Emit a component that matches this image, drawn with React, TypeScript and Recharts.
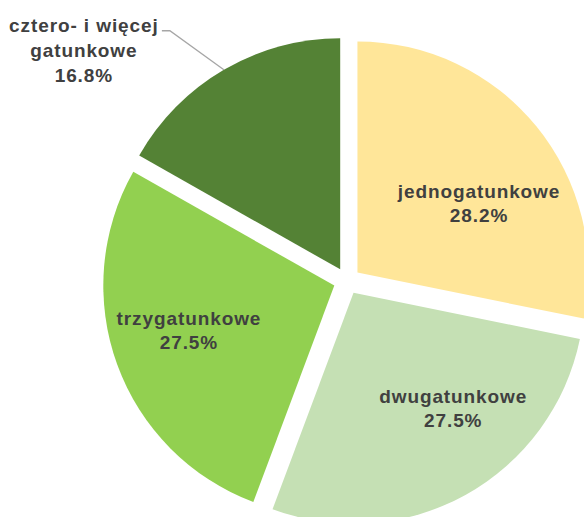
import React from 'react';
import { PieChart, Pie, Cell, Sector } from 'recharts';

const categories = ['jednogatunkowe', 'dwugatunkowe', 'trzygatunkowe', 'cztero- i więcej gatunkowe'];
const shares = [28.2, 27.5, 27.5, 16.8];
const sliceColors = ['#FFE699', '#C5E0B4', '#92D050', '#548235'];

const data = categories.map((name, i) => ({ name, value: shares[i] }));

const RAD = Math.PI / 180;
const EXPLODE = 13.5;
const TEXT_COLOR = '#404040';
const FONT = '"Liberation Sans", Arial, sans-serif';

// label placement tweaks (style): angle shift in degrees, radius
const labelPolar = [
  { shift: -9.5, r: 140 },
  { shift: 12, r: 152 },
  { shift: -3, r: 152 },
];

const offsetOf = (mid: number) => ({
  dx: EXPLODE * Math.cos(-mid * RAD),
  dy: EXPLODE * Math.sin(-mid * RAD),
});

const ExplodedSector = (props: any) => {
  const { cx, cy, midAngle, outerRadius, innerRadius, startAngle, endAngle, fill } = props;
  const { dx, dy } = offsetOf(midAngle);
  return (
    <Sector
      cx={cx + dx}
      cy={cy + dy}
      innerRadius={innerRadius}
      outerRadius={outerRadius}
      startAngle={startAngle}
      endAngle={endAngle}
      fill={fill}
      stroke="none"
    />
  );
};

const renderLabel = (props: any) => {
  const { cx, cy, midAngle, outerRadius, index } = props;
  const { dx, dy } = offsetOf(midAngle);
  const ecx = cx + dx;
  const ecy = cy + dy;
  const pct = shares[index].toFixed(1) + '%';
  const name = categories[index];
  const textStyle = {
    fontFamily: FONT,
    fontWeight: 700,
    fontSize: 19,
    letterSpacing: 0.9,
    fill: TEXT_COLOR,
  } as React.CSSProperties;
  if (index < 3) {
    const lp = labelPolar[index];
    const a = midAngle + lp.shift;
    const x = ecx + lp.r * Math.cos(-a * RAD);
    const y = ecy + lp.r * Math.sin(-a * RAD);
    return (
      <text key={'l' + index} x={x} y={y} textAnchor="middle" style={textStyle}>
        <tspan x={x} y={y - 5}>{name}</tspan>
        <tspan x={x} y={y + 19}>{pct}</tspan>
      </text>
    );
  }
  const ex = ecx + outerRadius * Math.cos(-midAngle * RAD);
  const ey = ecy + outerRadius * Math.sin(-midAngle * RAD);
  const bx = ex - 54;
  const by = ey - 39;
  const tx = ex - 140;
  return (
    <g key={'l' + index}>
      <polyline
        points={`${ex},${ey} ${bx},${by} ${bx - 8},${by}`}
        fill="none"
        stroke="#A6A6A6"
        strokeWidth={1.3}
      />
      <text x={tx} y={by} textAnchor="middle" style={textStyle}>
        <tspan x={tx} y={by + 1}>cztero- i więcej</tspan>
        <tspan x={tx} y={by + 26}>gatunkowe</tspan>
        <tspan x={tx} y={by + 51}>{pct}</tspan>
      </text>
    </g>
  );
};

export default function App() {
  return (
    <div style={{ position: 'absolute', left: 0, top: 0, width: 584, height: 517, background: '#fff' }}>
      <PieChart width={584} height={517} margin={{ top: 0, right: 0, bottom: 0, left: 0 }}>
        <Pie
          data={data}
          dataKey="value"
          nameKey="name"
          cx={347}
          cy={281}
          outerRadius={231}
          startAngle={90}
          endAngle={-270}
          stroke="none"
          isAnimationActive={false}
          shape={ExplodedSector}
          label={renderLabel}
          labelLine={false}
        >
          {data.map((d, i) => (
            <Cell key={d.name} fill={sliceColors[i]} />
          ))}
        </Pie>
      </PieChart>
    </div>
  );
}
